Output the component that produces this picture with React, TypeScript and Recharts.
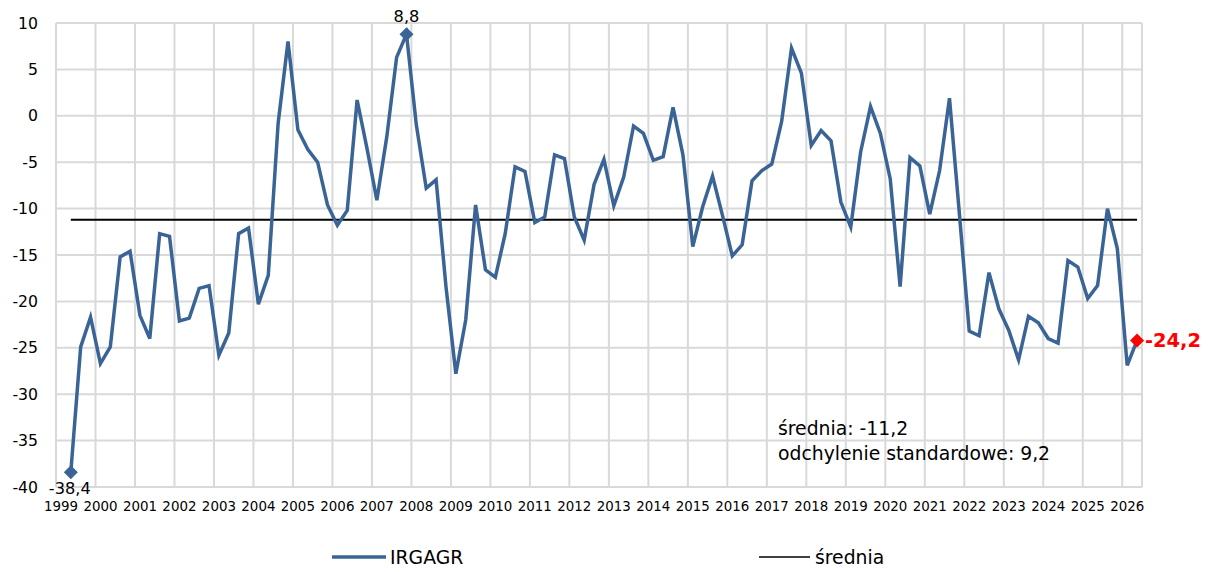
import React from "react";
import { LineChart, Line, XAxis, YAxis, CartesianGrid, Legend } from "recharts";

const years = [
  "1999", "2000", "2001", "2002", "2003", "2004", "2005", "2006", "2007", "2008",
  "2009", "2010", "2011", "2012", "2013", "2014", "2015", "2016", "2017", "2018",
  "2019", "2020", "2021", "2022", "2023", "2024", "2025", "2026",
];

// kwartalnie, od 1999 Q2 do 2026 Q2
const irgagr = [
  -38.4, -24.9, -21.7, -26.7, -24.9, -15.2, -14.6, -21.5, -24.0, -12.7, -13.0,
  -22.1, -21.8, -18.6, -18.3, -25.8, -23.4, -12.7, -12.1, -20.3, -17.2, -0.8,
  8.0, -1.5, -3.6, -5.0, -9.6, -11.8, -10.2, 1.7, -3.5, -9.1, -2.3,
  6.3, 8.8, -1.0, -7.8, -6.9, -18.4, -27.8, -22.0, -9.6, -16.6, -17.4,
  -12.7, -5.5, -6.0, -11.5, -10.9, -4.2, -4.6, -10.9, -13.4, -7.4, -4.7,
  -9.7, -6.6, -1.1, -1.9, -4.8, -4.4, 0.9, -4.2, -14.1, -9.8, -6.5,
  -10.7, -15.1, -13.9, -7.0, -5.9, -5.2, -0.6, 7.3, 4.6, -3.2, -1.6,
  -2.7, -9.3, -12.0, -3.9, 1.0, -1.9, -6.8, -18.4, -4.5, -5.4, -10.6,
  -5.9, 1.9, -10.5, -23.2, -23.7, -16.9, -20.8, -23.1, -26.3, -21.6, -22.3,
  -24.0, -24.5, -15.6, -16.3, -19.7, -18.3, -10.0, -14.3, -26.9, -24.2,
];

const yTicks = [-40, -35, -30, -25, -20, -15, -10, -5, 0, 5, 10];

const MEAN = -11.2;
const STD = 9.2;
const FIRST_QUARTER = 2; // pierwszy kwartał z danymi w 1999

const BLUE = "#3a6496";
const FONT = "'DejaVu Sans', Verdana, sans-serif";

const fmt = (v: number) => v.toFixed(1).replace(".", ",");

const data = irgagr.map((v, j) => {
  const k = FIRST_QUARTER - 1 + j;
  return {
    x: k + 0.5,
    name: `${years[Math.floor(k / 4)]} Q${(k % 4) + 1}`,
    irgagr: v,
    srednia: MEAN,
  };
});

const minIdx = irgagr.indexOf(Math.min(...irgagr));
const maxIdx = irgagr.indexOf(Math.max(...irgagr));
const lastIdx = irgagr.length - 1;

const xTicks = years.map((_, i) => i * 4 + 0.5);
const gridTicks = years.map((_, i) => i * 4);
const xMax = years.length * 4 - 2;

const diamond = (cx: number, cy: number, r: number) =>
  `M${cx},${cy - r} L${cx + r},${cy} L${cx},${cy + r} L${cx - r},${cy} Z`;

const renderDot = (props: any) => {
  const { cx, cy, index, value } = props;
  if (index === minIdx) {
    return (
      <g key={`d${index}`}>
        <path d={diamond(cx, cy, 7)} fill={BLUE} />
        <text x={cx - 1} y={cy + 22} textAnchor="middle" fontSize={16.2} fontFamily={FONT} fill="#000">
          {fmt(value)}
        </text>
      </g>
    );
  }
  if (index === maxIdx) {
    return (
      <g key={`d${index}`}>
        <path d={diamond(cx, cy, 7)} fill={BLUE} />
        <text x={cx} y={cy - 12} textAnchor="middle" fontSize={16.2} fontFamily={FONT} fill="#000">
          {fmt(value)}
        </text>
      </g>
    );
  }
  if (index === lastIdx) {
    return (
      <g key={`d${index}`}>
        <path d={diamond(cx, cy, 7)} fill="#ff0000" />
        <text x={cx + 8} y={cy + 7} textAnchor="start" fontSize={19.4} fontWeight="bold" fontFamily={FONT} fill="#ff0000">
          {fmt(value)}
        </text>
      </g>
    );
  }
  return <g key={`d${index}`} />;
};

const renderLegend = () => (
  <svg width={1210} height={30} style={{ display: "block" }}>
    <line x1={332} x2={386} y1={15} y2={15} stroke={BLUE} strokeWidth={3.5} />
    <text x={390} y={22} fontSize={18.8} fontFamily={FONT} fill="#000">IRGAGR</text>
    <line x1={759} x2={810} y1={15} y2={15} stroke="#000" strokeWidth={1.6} />
    <text x={815} y={22} fontSize={18.8} fontFamily={FONT} fill="#000">średnia</text>
  </svg>
);

export default function App() {
  return (
    <div style={{ position: "relative", width: 1210, height: 572, background: "#fff" }}>
      <style>{`body { margin: 0; }`}</style>
      <LineChart
        width={1210}
        height={572}
        data={data}
        margin={{ top: 23, right: 68, bottom: 15, left: 0 }}
      >
        <CartesianGrid xAxisId="grid" stroke="#d9d9d9" strokeWidth={2} />
        <XAxis
          xAxisId="grid"
          type="number"
          dataKey="x"
          domain={[0, xMax]}
          ticks={gridTicks}
          hide
        />
        <XAxis
          type="number"
          dataKey="x"
          domain={[0, xMax]}
          ticks={xTicks}
          interval={0}
          tickFormatter={(v: number) => years[Math.round((v - 0.5) / 4)]}
          axisLine={false}
          tickLine={false}
          tickSize={0}
          tickMargin={14}
          height={40}
          tick={{ fontSize: 13.4, fontFamily: FONT, fill: "#000" }}
        />
        <YAxis
          domain={[-40, 10]}
          ticks={yTicks}
          interval={0}
          width={56}
          axisLine={false}
          tickLine={false}
          tickSize={0}
          tickMargin={18}
          tick={{ fontSize: 15.7, fontFamily: FONT, fill: "#000" }}
        />
        <Line
          type="linear"
          dataKey="srednia"
          stroke="#000"
          strokeWidth={1.8}
          dot={false}
          activeDot={false}
          isAnimationActive={false}
        />
        <Line
          type="linear"
          dataKey="irgagr"
          stroke={BLUE}
          strokeWidth={3.5}
          dot={renderDot}
          activeDot={false}
          isAnimationActive={false}
        />
        <Legend
          content={renderLegend}
          wrapperStyle={{ left: 0, top: 542, width: 1210, height: 30 }}
        />
      </LineChart>
      <svg
        width={1210}
        height={572}
        style={{ position: "absolute", left: 0, top: 0, pointerEvents: "none" }}
      >
        <text x={778} y={435} fontSize={18.8} fontFamily={FONT} fill="#000">
          średnia: {fmt(MEAN)}
        </text>
        <text x={778} y={460} fontSize={18.8} fontFamily={FONT} fill="#000">
          odchylenie standardowe: {fmt(STD)}
        </text>
      </svg>
    </div>
  );
}
